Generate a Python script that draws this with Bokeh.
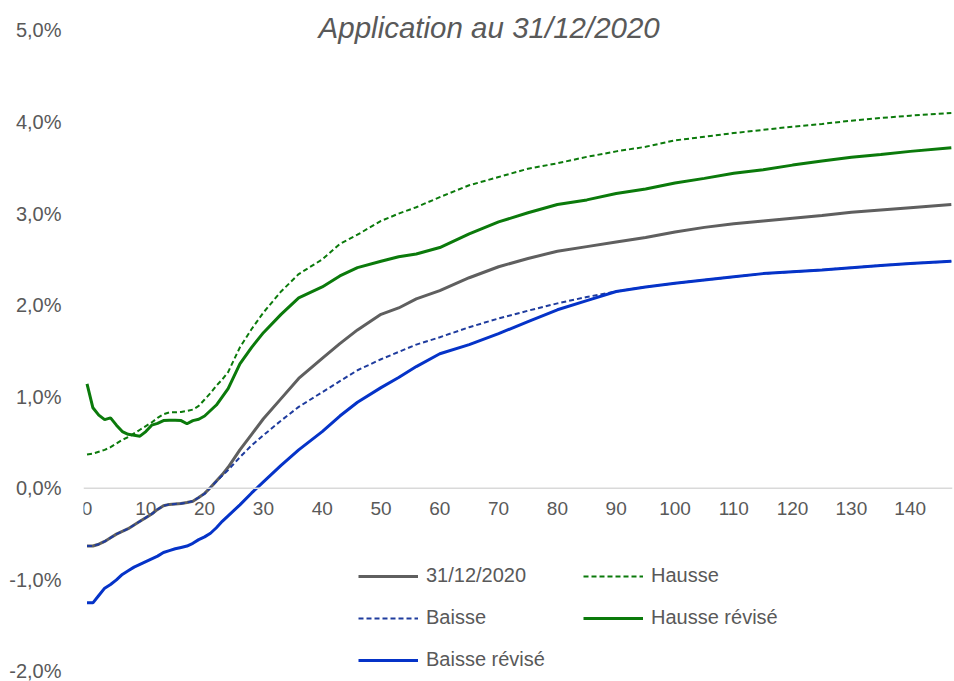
from bokeh.plotting import figure
from bokeh.models import Span, Label, Legend, LegendItem, FixedTicker, CustomJSTickFormatter, ColumnDataSource
from bokeh.core.properties import value
from bokeh.embed import file_html
from bokeh.resources import INLINE

# ---------------- data ----------------
maturities = [0, 1, 2, 3, 4, 5, 6, 7, 8, 9, 10, 11, 12, 13, 14, 15, 16, 17, 18, 19, 20, 21, 22, 23, 24,
              26, 28, 30, 33, 36,
              40, 43, 46, 50, 53, 56, 60,
              65, 70, 75, 80, 85, 90, 95, 100, 105, 110, 115, 120, 125, 130, 135, 140, 147]

taux_2020 = [-0.63, -0.63, -0.61, -0.58, -0.54, -0.50, -0.47, -0.44, -0.40, -0.36, -0.32, -0.28, -0.23, -0.19,
             -0.175, -0.17, -0.165, -0.155, -0.14, -0.10, -0.055, 0.01, 0.08, 0.15, 0.23,
             0.42, 0.59, 0.76, 0.98, 1.20,
             1.42, 1.58, 1.73, 1.90, 1.97, 2.07, 2.16,
             2.30, 2.42, 2.51, 2.59, 2.64, 2.69, 2.74, 2.80, 2.85, 2.89, 2.92, 2.95, 2.98, 3.015, 3.04, 3.065, 3.10]

hausse = [0.37, 0.38, 0.40, 0.42, 0.45, 0.49, 0.53, 0.56, 0.60, 0.64, 0.68, 0.72, 0.77, 0.81,
          0.83, 0.83, 0.835, 0.845, 0.86, 0.90, 0.97, 1.04, 1.12, 1.19, 1.27,
          1.54, 1.74, 1.92, 2.15, 2.34,
          2.50, 2.67, 2.77, 2.92, 3.00, 3.07, 3.18,
          3.31, 3.40, 3.49, 3.55, 3.62, 3.68, 3.73, 3.80, 3.84, 3.88, 3.915, 3.95, 3.98, 4.015, 4.045, 4.07, 4.10]

baisse = [-0.63, -0.63, -0.61, -0.58, -0.54, -0.50, -0.47, -0.44, -0.40, -0.36, -0.32, -0.28, -0.23, -0.19,
          -0.175, -0.17, -0.165, -0.155, -0.14, -0.10, -0.06, 0.01, 0.075, 0.14, 0.20,
          0.34, 0.47, 0.58, 0.74, 0.89,
          1.05, 1.17, 1.29, 1.41, 1.49, 1.57, 1.65,
          1.76, 1.855, 1.94, 2.02, 2.09, 2.15, 2.20, 2.24, 2.275, 2.31, 2.345, 2.365, 2.385, 2.41, 2.435, 2.455, 2.48]

hausse_revise = [1.14, 0.88, 0.80, 0.75, 0.77, 0.69, 0.62, 0.59, 0.58, 0.57, 0.62, 0.69, 0.71, 0.74,
                 0.745, 0.745, 0.74, 0.705, 0.74, 0.755, 0.79, 0.85, 0.91, 1.00, 1.09,
                 1.36, 1.54, 1.70, 1.90, 2.08,
                 2.20, 2.32, 2.41, 2.48, 2.53, 2.56, 2.63,
                 2.78, 2.91, 3.01, 3.10, 3.15, 3.22, 3.27, 3.335, 3.385, 3.44, 3.48, 3.53, 3.575, 3.615, 3.645, 3.68, 3.72]

baisse_revise = [-1.25, -1.25, -1.17, -1.09, -1.05, -1.00, -0.94, -0.90, -0.86, -0.83, -0.80, -0.77, -0.74, -0.70,
                 -0.68, -0.66, -0.645, -0.63, -0.60, -0.56, -0.53, -0.49, -0.43, -0.36, -0.30,
                 -0.18, -0.05, 0.07, 0.25, 0.42,
                 0.62, 0.79, 0.94, 1.10, 1.21, 1.33, 1.47,
                 1.57, 1.69, 1.82, 1.95, 2.05, 2.15, 2.20, 2.24, 2.275, 2.31, 2.345, 2.365, 2.385, 2.41, 2.435, 2.455, 2.48]

y_ticks = [-2, -1, 0, 1, 2, 3, 4, 5]
x_ticks = [0, 10, 20, 30, 40, 50, 60, 70, 80, 90, 100, 110, 120, 130, 140]
x_tick_labels = [str(v) for v in x_ticks]

title_text = "Application au 31/12/2020"

# ---------------- figure ----------------
FONT = "Liberation Sans"
GREY_TXT = "#595959"

# frame spans the full height; the top of the value range leaves room for the title
p = figure(width=954, height=681, output_backend="svg", toolbar_location=None,
           x_range=(-0.6, 147.2), y_range=(-2, 5.3276), x_axis_location=None,
           min_border_left=83, min_border_right=2, min_border_top=0, min_border_bottom=10)
p.outline_line_color = None
p.xgrid.visible = False
p.ygrid.visible = False
p.background_fill_color = "white"
p.border_fill_color = "white"

ax = p.yaxis[0]
ax.ticker = FixedTicker(ticks=y_ticks)
ax.formatter = CustomJSTickFormatter(code="return tick.toFixed(1).replace('.', ',') + '%';")
ax.axis_line_color = None
ax.major_tick_line_color = None
ax.minor_tick_line_color = None
ax.major_label_text_font = FONT
ax.major_label_text_font_size = "20px"
ax.major_label_text_color = GREY_TXT
ax.major_label_standoff = 16

# zero line (horizontal axis)
p.add_layout(Span(location=0, dimension="width", line_color="#d9d9d9", line_width=1.5))

# x tick labels drawn at y = 0
xsrc = ColumnDataSource(dict(x=x_ticks, y=[0] * len(x_ticks), t=x_tick_labels))
p.text(x="x", y="y", text="t", source=xsrc, text_align="center", text_baseline="middle",
       y_offset=20, text_font=value(FONT), text_font_size="19px", text_color=GREY_TXT)

# series
r_2020 = p.line(maturities, taux_2020, line_color="#5f5f5f", line_width=3)
r_hausse = p.line(maturities, hausse, line_color="#0b7a0b", line_width=2, line_dash="5 3")
r_baisse = p.line(maturities, baisse, line_color="#1f3c9e", line_width=2, line_dash="5 3")
r_hrev = p.line(maturities, hausse_revise, line_color="#0b7a0b", line_width=3)
r_brev = p.line(maturities, baisse_revise, line_color="#0533c8", line_width=3)


def style_legend(lg):
    lg.glyph_width = 60
    lg.glyph_height = 20
    lg.label_height = 20
    lg.label_standoff = 8
    lg.spacing = 19
    lg.padding = 0
    lg.margin = 0
    lg.border_line_alpha = 0
    lg.background_fill_alpha = 0
    lg.label_text_font = FONT
    lg.label_text_font_size = "20px"
    lg.label_text_color = GREY_TXT


legend_left = Legend(items=[
    LegendItem(label="31/12/2020", renderers=[r_2020]),
    LegendItem(label="Baisse", renderers=[r_baisse]),
    LegendItem(label="Baisse révisé", renderers=[r_brev]),
], location=(275, 0))
style_legend(legend_left)
p.add_layout(legend_left, "center")

legend_right = Legend(items=[
    LegendItem(label="Hausse", renderers=[r_hausse]),
    LegendItem(label="Hausse révisé", renderers=[r_hrev]),
], location=(500, 42))
style_legend(legend_right)
p.add_layout(legend_right, "center")

# title
p.add_layout(Label(x=68.4, y=5.0, text=title_text, text_align="center", text_baseline="alphabetic",
                   y_offset=3, text_font=FONT, text_font_size="29.5px", text_font_style="italic",
                   text_color=GREY_TXT))

open("out.html", "w").write(file_html(p, INLINE))
